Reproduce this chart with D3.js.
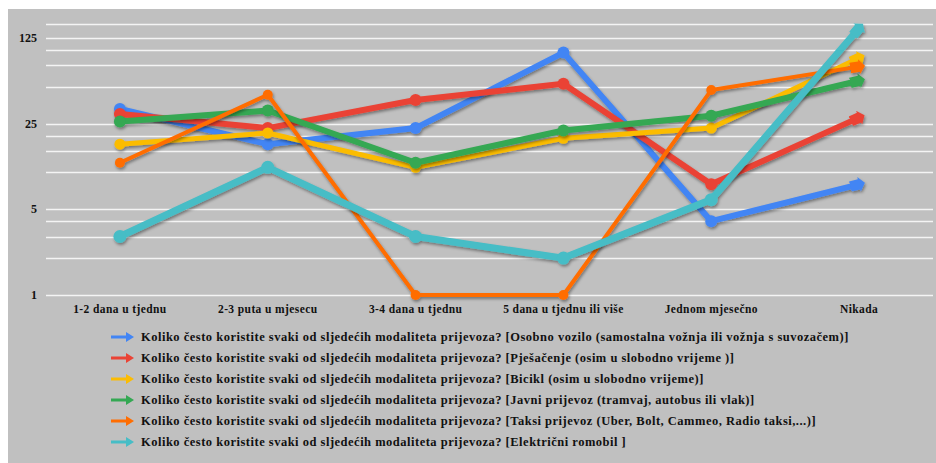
<!DOCTYPE html>
<html>
<head>
<meta charset="utf-8">
<script src="https://cdn.jsdelivr.net/npm/d3@7"></script>
<style>
  body { margin: 0; background: #fff; }
  text { font-family: "Liberation Serif", "Times New Roman", serif; font-weight: bold; fill: #111; }
</style>
</head>
<body>
<div id="chart"></div>
<script>
// categories on the x axis
var categories = ["1-2 dana u tjednu", "2-3 puta u mjesecu", "3-4 dana u tjednu", "5 dana u tjednu ili više", "Jednom mjesečno", "Nikada"];

// series names (legend)
var prefix = "Koliko često koristite svaki od sljedećih modaliteta prijevoza? ";
var seriesNames = [
    prefix + "[Osobno vozilo (samostalna vožnja ili vožnja s suvozačem)]",
    prefix + "[Pješačenje (osim u slobodno vrijeme )]",
    prefix + "[Bicikl (osim u slobodno vrijeme)]",
    prefix + "[Javni prijevoz (tramvaj, autobus ili vlak)]",
    prefix + "[Taksi prijevoz (Uber, Bolt, Cammeo, Radio taksi,...)]",
    prefix + "[Električni romobil ]"
];

// values
var osobno   = [33, 17, 23, 95, 4, 8];
var pjesacenje = [30, 23, 39, 53, 8, 28];
var bicikl   = [17, 21, 11, 19, 23, 86];
var javni    = [26, 32, 12, 22, 29, 56];
var taksi    = [12, 43, 1, 1, 47, 73];
var romobil  = [3, 11, 3, 2, 6, 150];

var seriesValues = [osobno, pjesacenje, bicikl, javni, taksi, romobil];
var colors = ["#4285F4", "#EA4335", "#FBBC04", "#34A853", "#FF6D01", "#46BDC6"];
var widths = [6, 6, 5, 6, 4, 7];

// y axis ticks and gridlines
var yTicks = [1, 5, 25, 125];
var gridValues = [1, 2, 3, 4, 5, 10, 15, 20, 25, 50, 75, 100, 125];

var W = 936, H = 463;
var plotLeft = 46, plotRight = 933, plotTop = 24, plotBottom = 295;

var svg = d3.select("#chart").append("svg")
    .attr("width", W)
    .attr("height", H);

var defs = svg.append("defs");
var shadow = defs.append("filter")
    .attr("id", "shadow")
    .attr("x", "-20%").attr("y", "-20%")
    .attr("width", "140%").attr("height", "140%");
shadow.append("feDropShadow")
    .attr("dx", 1).attr("dy", 2)
    .attr("stdDeviation", 1.8)
    .attr("flood-color", "#000")
    .attr("flood-opacity", 0.4);

// arrow heads for the line ends
colors.forEach(function(c, i) {
    defs.append("marker")
        .attr("id", "arrow" + i)
        .attr("markerUnits", "userSpaceOnUse")
        .attr("viewBox", "0 0 10 10")
        .attr("refX", 6).attr("refY", 5)
        .attr("markerWidth", 15).attr("markerHeight", 15)
        .attr("orient", "auto")
        .append("path")
        .attr("d", "M0,1.5 L6,1.5 L6,0 L10,5 L6,10 L6,8.5 L0,8.5 Z")
        .attr("fill", c);
});

// background
svg.append("rect")
    .attr("x", 8).attr("y", 9)
    .attr("width", W - 8).attr("height", H - 9)
    .attr("fill", "#c0c0c0");

var x = d3.scaleBand().domain(categories).range([plotLeft, plotRight]);
var y = d3.scaleLog().base(5).domain([1, 125]).range([plotBottom, 38]);

function cx(d) { return x(d) + x.bandwidth() / 2; }

// gridlines
svg.append("g")
    .selectAll("line")
    .data(gridValues)
    .enter().append("line")
    .attr("x1", plotLeft).attr("x2", plotRight)
    .attr("y1", function(d) { return Math.round(y(d)) + 0.5; })
    .attr("y2", function(d) { return Math.round(y(d)) + 0.5; })
    .attr("stroke", "#f4f4f4")
    .attr("stroke-width", 1.6);

svg.append("line")
    .attr("x1", plotLeft).attr("x2", plotRight)
    .attr("y1", plotTop + 0.5).attr("y2", plotTop + 0.5)
    .attr("stroke", "#f4f4f4")
    .attr("stroke-width", 1.6);

// y axis labels
svg.append("g")
    .selectAll("text")
    .data(yTicks)
    .enter().append("text")
    .attr("x", 37)
    .attr("y", function(d) { return y(d) + 4; })
    .attr("text-anchor", "end")
    .style("font-size", "12px")
    .text(function(d) { return d; });

// x axis labels
svg.append("g")
    .selectAll("text")
    .data(categories)
    .enter().append("text")
    .attr("x", cx)
    .attr("y", 313)
    .attr("text-anchor", "middle")
    .style("font-size", "11.5px")
    .style("letter-spacing", "0.4px")
    .text(function(d) { return d; });

// lines
var line = d3.line()
    .x(function(d, i) { return cx(categories[i]); })
    .y(function(d) { return y(d); });

var series = svg.append("g")
    .selectAll("g")
    .data(seriesValues)
    .enter().append("g")
    .attr("filter", "url(#shadow)");

series.append("path")
    .attr("d", line)
    .attr("fill", "none")
    .attr("stroke", function(d, i) { return colors[i]; })
    .attr("stroke-width", function(d, i) { return widths[i]; })
    .attr("stroke-linejoin", "round")
    .attr("marker-end", function(d, i) { return "url(#arrow" + i + ")"; });

series.each(function(vals, i) {
    d3.select(this).selectAll("circle")
        .data(vals.slice(0, vals.length - 1))
        .enter().append("circle")
        .attr("cx", function(d, j) { return cx(categories[j]); })
        .attr("cy", function(d) { return y(d); })
        .attr("r", widths[i] * 0.5 + 3)
        .attr("fill", colors[i]);
});

// legend
var legend = svg.append("g")
    .selectAll("g")
    .data(seriesNames)
    .enter().append("g")
    .attr("transform", function(d, i) { return "translate(0," + (337 + i * 21) + ")"; });

legend.append("path")
    .attr("d", "M111,-1.5 L126,-1.5 L126,-5 L134,0 L126,5 L126,1.5 L111,1.5 Z")
    .attr("fill", function(d, i) { return colors[i]; });

legend.append("text")
    .attr("x", 141)
    .attr("y", 4)
    .style("font-size", "12.5px")
    .style("letter-spacing", "0.5px")
    .text(function(d) { return d; });
</script>
</body>
</html>
